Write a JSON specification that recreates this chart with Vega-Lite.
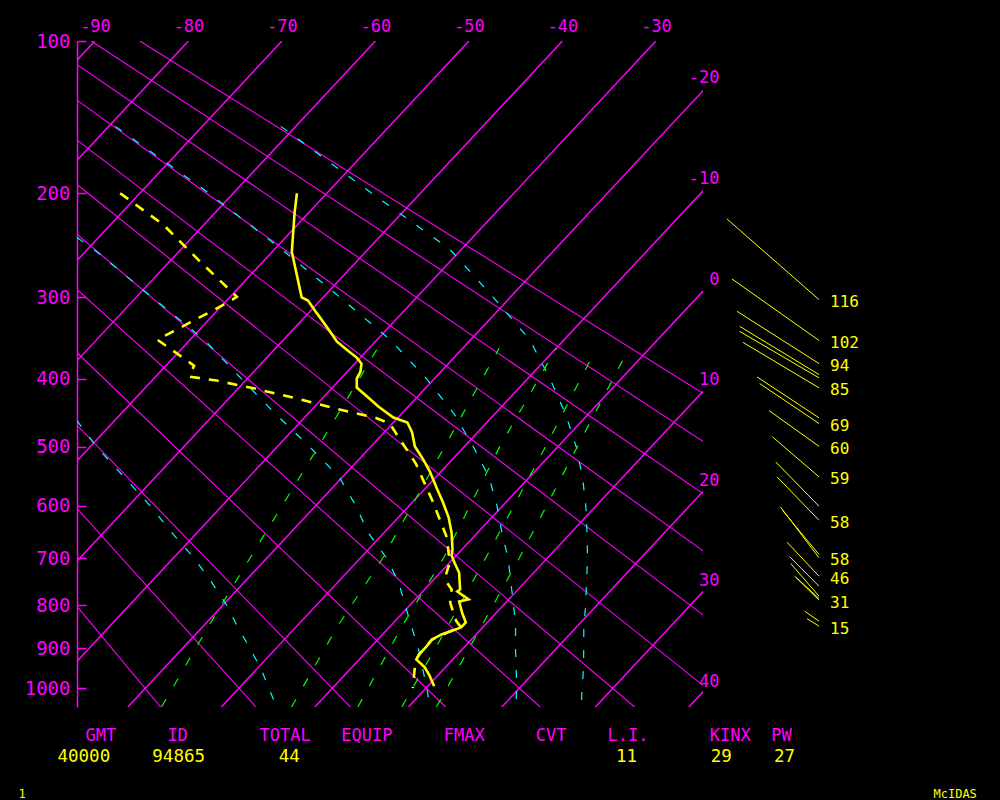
{
  "$schema": "https://vega.github.io/schema/vega-lite/v6.json",
  "width": 626,
  "height": 666,
  "autosize": {"type": "none"},
  "padding": {"left": 77, "top": 41, "right": 297, "bottom": 93},
  "background": "black",
  "config": {
    "view": {"stroke": null},
    "axis": {"labelFont": "DejaVu Sans Mono", "titleFont": "DejaVu Sans Mono", "grid": false, "titleLimit": 1000},
    "text": {"font": "DejaVu Sans Mono"}
  },
  "datasets": {
    "isotherms": [
      {"T": -90, "p": 100}, {"T": -90, "p": 1050},
      {"T": -80, "p": 100}, {"T": -80, "p": 1050},
      {"T": -70, "p": 100}, {"T": -70, "p": 1050},
      {"T": -60, "p": 100}, {"T": -60, "p": 1050},
      {"T": -50, "p": 100}, {"T": -50, "p": 1050},
      {"T": -40, "p": 100}, {"T": -40, "p": 1050},
      {"T": -30, "p": 100}, {"T": -30, "p": 1050},
      {"T": -20, "p": 100}, {"T": -20, "p": 1050},
      {"T": -10, "p": 100}, {"T": -10, "p": 1050},
      {"T": 0, "p": 100}, {"T": 0, "p": 1050},
      {"T": 10, "p": 100}, {"T": 10, "p": 1050},
      {"T": 20, "p": 100}, {"T": 20, "p": 1050},
      {"T": 30, "p": 100}, {"T": 30, "p": 1050},
      {"T": 40, "p": 100}, {"T": 40, "p": 1050}
    ],
    "adiabats": [
      {"th": -20, "p": 100, "T": -142.1}, {"th": -20, "p": 1050, "T": -16.5},
      {"th": -10, "p": 100, "T": -137.0}, {"th": -10, "p": 1050, "T": -6.3},
      {"th": 0, "p": 100, "T": -131.8}, {"th": 0, "p": 1050, "T": 3.8},
      {"th": 10, "p": 100, "T": -126.6}, {"th": 10, "p": 1050, "T": 14.0},
      {"th": 20, "p": 100, "T": -121.4}, {"th": 20, "p": 1050, "T": 24.1},
      {"th": 30, "p": 100, "T": -116.3}, {"th": 30, "p": 1050, "T": 34.2},
      {"th": 40, "p": 100, "T": -111.1}, {"th": 40, "p": 1050, "T": 44.4},
      {"th": 50, "p": 100, "T": -105.9}, {"th": 50, "p": 1050, "T": 54.5},
      {"th": 60, "p": 100, "T": -100.7}, {"th": 60, "p": 1050, "T": 64.7},
      {"th": 70, "p": 100, "T": -95.6}, {"th": 70, "p": 1050, "T": 74.8},
      {"th": 80, "p": 100, "T": -90.4}, {"th": 80, "p": 1050, "T": 84.9},
      {"th": 90, "p": 100, "T": -85.2}, {"th": 90, "p": 1050, "T": 95.1}
    ],
    "moist": [
      {"id": "a", "p": 459, "T": -54.1}, {"id": "a", "p": 500, "T": -49.3}, {"id": "a", "p": 550, "T": -43.3}, {"id": "a", "p": 600, "T": -37.7}, {"id": "a", "p": 650, "T": -32.7}, {"id": "a", "p": 700, "T": -27.8}, {"id": "a", "p": 750, "T": -23.5}, {"id": "a", "p": 800, "T": -19.6}, {"id": "a", "p": 850, "T": -16.2}, {"id": "a", "p": 900, "T": -12.8}, {"id": "a", "p": 950, "T": -9.6}, {"id": "a", "p": 1000, "T": -6.8}, {"id": "a", "p": 1050, "T": -4.1},
      {"id": "b", "p": 239, "T": -72.3}, {"id": "b", "p": 250, "T": -69.4}, {"id": "b", "p": 300, "T": -58.3}, {"id": "b", "p": 350, "T": -48.4}, {"id": "b", "p": 400, "T": -40.6}, {"id": "b", "p": 450, "T": -33.4}, {"id": "b", "p": 500, "T": -26.5}, {"id": "b", "p": 550, "T": -20.3}, {"id": "b", "p": 600, "T": -15.7}, {"id": "b", "p": 650, "T": -11.7}, {"id": "b", "p": 700, "T": -7.2}, {"id": "b", "p": 750, "T": -3.5}, {"id": "b", "p": 800, "T": -0.5}, {"id": "b", "p": 850, "T": 2.4}, {"id": "b", "p": 900, "T": 5.2}, {"id": "b", "p": 950, "T": 7.7}, {"id": "b", "p": 1000, "T": 10.1}, {"id": "b", "p": 1050, "T": 12.3},
      {"id": "c", "p": 150, "T": -79.3}, {"id": "c", "p": 200, "T": -62.6}, {"id": "c", "p": 250, "T": -49.3}, {"id": "c", "p": 300, "T": -38.2}, {"id": "c", "p": 350, "T": -28.5}, {"id": "c", "p": 400, "T": -20.8}, {"id": "c", "p": 450, "T": -14.3}, {"id": "c", "p": 500, "T": -9.0}, {"id": "c", "p": 550, "T": -4.3}, {"id": "c", "p": 600, "T": -0.6}, {"id": "c", "p": 650, "T": 2.6}, {"id": "c", "p": 700, "T": 5.8}, {"id": "c", "p": 750, "T": 8.5}, {"id": "c", "p": 800, "T": 11.1}, {"id": "c", "p": 850, "T": 13.5}, {"id": "c", "p": 900, "T": 15.6}, {"id": "c", "p": 950, "T": 17.7}, {"id": "c", "p": 1000, "T": 19.7}, {"id": "c", "p": 1050, "T": 21.5},
      {"id": "d", "p": 150, "T": -61.6}, {"id": "d", "p": 200, "T": -45.2}, {"id": "d", "p": 250, "T": -31.3}, {"id": "d", "p": 300, "T": -21.8}, {"id": "d", "p": 350, "T": -13.6}, {"id": "d", "p": 400, "T": -7.6}, {"id": "d", "p": 450, "T": -2.4}, {"id": "d", "p": 500, "T": 2.0}, {"id": "d", "p": 550, "T": 5.7}, {"id": "d", "p": 600, "T": 8.9}, {"id": "d", "p": 650, "T": 11.7}, {"id": "d", "p": 700, "T": 14.3}, {"id": "d", "p": 750, "T": 16.6}, {"id": "d", "p": 800, "T": 18.8}, {"id": "d", "p": 850, "T": 20.8}, {"id": "d", "p": 900, "T": 22.9}, {"id": "d", "p": 950, "T": 24.9}, {"id": "d", "p": 1000, "T": 26.7}, {"id": "d", "p": 1050, "T": 28.5}
    ],
    "mixr": [
      {"w": 1, "p": 1050, "T": -16.4}, {"w": 1, "p": 850, "T": -19.4}, {"w": 1, "p": 700, "T": -21.8}, {"w": 1, "p": 500, "T": -25.6}, {"w": 1, "p": 360, "T": -29.1},
      {"w": 3, "p": 1050, "T": -2.5}, {"w": 3, "p": 850, "T": -5.6}, {"w": 3, "p": 700, "T": -7.6}, {"w": 3, "p": 500, "T": -12.1}, {"w": 3, "p": 360, "T": -16.1},
      {"w": 5, "p": 1050, "T": 4.6}, {"w": 5, "p": 850, "T": 1.3}, {"w": 5, "p": 700, "T": -1.1}, {"w": 5, "p": 500, "T": -6.2}, {"w": 5, "p": 360, "T": -10.0},
      {"w": 7, "p": 1050, "T": 9.3}, {"w": 7, "p": 850, "T": 6.2}, {"w": 7, "p": 700, "T": 3.4}, {"w": 7, "p": 500, "T": -1.3}, {"w": 7, "p": 360, "T": -5.7},
      {"w": 9, "p": 1050, "T": 13.0}, {"w": 9, "p": 850, "T": 9.8}, {"w": 9, "p": 700, "T": 7.0}, {"w": 9, "p": 500, "T": 2.1}, {"w": 9, "p": 360, "T": -2.2}
    ],
    "temp": [
      {"p": 200, "T": -53.2}, {"p": 216.6, "T": -51.5}, {"p": 252.7, "T": -47.9}, {"p": 300, "T": -42.3}, {"p": 303.6, "T": -41.3}, {"p": 317.2, "T": -39.2}, {"p": 333.6, "T": -36.7}, {"p": 351.8, "T": -34.1}, {"p": 361.7, "T": -32.3}, {"p": 371.9, "T": -30.4}, {"p": 379.6, "T": -29.3}, {"p": 390.2, "T": -28.6}, {"p": 399.6, "T": -28.3}, {"p": 411.9, "T": -27.4}, {"p": 424.5, "T": -25.4}, {"p": 438.8, "T": -23.2}, {"p": 454.8, "T": -20.5}, {"p": 462.3, "T": -18.5}, {"p": 477.5, "T": -17.0}, {"p": 499.4, "T": -15.3}, {"p": 520.4, "T": -13.1}, {"p": 540.3, "T": -11.2}, {"p": 567.6, "T": -8.9}, {"p": 594.1, "T": -6.7}, {"p": 621.5, "T": -4.6}, {"p": 649.7, "T": -2.8}, {"p": 682.8, "T": -1.0}, {"p": 694.8, "T": -0.5}, {"p": 709.0, "T": 0.5}, {"p": 729.6, "T": 2.0}, {"p": 765.5, "T": 3.8}, {"p": 769.8, "T": 3.7}, {"p": 787.3, "T": 5.7}, {"p": 791.7, "T": 4.9}, {"p": 816.2, "T": 6.3}, {"p": 838.9, "T": 7.7}, {"p": 850.5, "T": 7.7}, {"p": 859.8, "T": 6.9}, {"p": 866.8, "T": 6.3}, {"p": 878.7, "T": 5.8}, {"p": 895.4, "T": 5.9}, {"p": 914.8, "T": 5.9}, {"p": 927.1, "T": 6.1}, {"p": 946.9, "T": 7.8}, {"p": 967.1, "T": 9.1}, {"p": 995.3, "T": 10.7}
    ],
    "dewp": [
      {"p": 200, "T": -72.1}, {"p": 227.4, "T": -64.3}, {"p": 260.6, "T": -57.1}, {"p": 299.3, "T": -49.3}, {"p": 306.0, "T": -49.7}, {"p": 349.4, "T": -53.5}, {"p": 382.3, "T": -47.0}, {"p": 396.9, "T": -46.4}, {"p": 402.3, "T": -43.1}, {"p": 413.3, "T": -38.2}, {"p": 427.3, "T": -32.7}, {"p": 441.7, "T": -27.6}, {"p": 454.8, "T": -22.5}, {"p": 463.8, "T": -20.3}, {"p": 483.6, "T": -18.1}, {"p": 527.0, "T": -13.5}, {"p": 592.3, "T": -7.9}, {"p": 659.4, "T": -2.8}, {"p": 709.0, "T": 0.0}, {"p": 733.8, "T": 0.8}, {"p": 750.6, "T": 1.7}, {"p": 765.5, "T": 2.9}, {"p": 787.3, "T": 3.7}, {"p": 798.4, "T": 4.3}, {"p": 836.6, "T": 6.6}, {"p": 850.5, "T": 7.7}, {"p": 859.8, "T": 6.9}, {"p": 878.7, "T": 5.8}, {"p": 914.8, "T": 5.9}, {"p": 932.0, "T": 6.2}, {"p": 1000, "T": 8.6}
    ],
    "wind": [
      {"id": 1, "p": 302.5, "u": 0}, {"id": 1, "p": 222.1, "u": -92},
      {"id": 2, "p": 350.3, "u": 0}, {"id": 2, "p": 280.2, "u": -87},
      {"id": 3, "p": 379.6, "u": 0}, {"id": 3, "p": 315.7, "u": -82},
      {"id": 4, "p": 394.2, "u": 0}, {"id": 4, "p": 333.3, "u": -79.3},
      {"id": 5, "p": 398.6, "u": 0}, {"id": 5, "p": 339.3, "u": -79.3},
      {"id": 6, "p": 412.3, "u": 0}, {"id": 6, "p": 352.7, "u": -76},
      {"id": 7, "p": 455.3, "u": 0}, {"id": 7, "p": 397.3, "u": -62},
      {"id": 8, "p": 463.8, "u": 0}, {"id": 8, "p": 406.4, "u": -59.3},
      {"id": 9, "p": 499.0, "u": 0}, {"id": 9, "p": 444.6, "u": -50},
      {"id": 10, "p": 549.2, "u": 0}, {"id": 10, "p": 484.1, "u": -46.6},
      {"id": 11, "p": 600.8, "u": 0}, {"id": 11, "p": 524.2, "u": -43.3},
      {"id": 12, "p": 626.5, "u": 0}, {"id": 12, "p": 549.2, "u": -42},
      {"id": 13, "p": 699.5, "u": 0}, {"id": 13, "p": 601.9, "u": -38.6},
      {"id": 14, "p": 692.9, "u": 0}, {"id": 14, "p": 608.7, "u": -36.3},
      {"id": 15, "p": 737.3, "u": 0}, {"id": 15, "p": 668.5, "u": -32},
      {"id": 16, "p": 758.5, "u": 0}, {"id": 16, "p": 697.4, "u": -29.3},
      {"id": 17, "p": 780.1, "u": 0}, {"id": 17, "p": 711.0, "u": -28.3},
      {"id": 18, "p": 788.8, "u": 0}, {"id": 18, "p": 737.3, "u": -24.3},
      {"id": 19, "p": 785.1, "u": 0}, {"id": 19, "p": 740.0, "u": -22.8},
      {"id": 20, "p": 835.9, "u": 0}, {"id": 20, "p": 813.4, "u": -14.3},
      {"id": 21, "p": 847.4, "u": 0}, {"id": 21, "p": 830.4, "u": -12}
    ],
    "windlab": [
      {"p": 302.5, "spd": "116"}, {"p": 350.3, "spd": "102"}, {"p": 379.6, "spd": "94"}, {"p": 412.3, "spd": "85"},
      {"p": 463.8, "spd": "69"}, {"p": 499.0, "spd": "60"}, {"p": 549.2, "spd": "59"}, {"p": 626.5, "spd": "58"},
      {"p": 699.5, "spd": "58"}, {"p": 737.3, "spd": "46"}, {"p": 788.8, "spd": "31"}, {"p": 847.4, "spd": "15"}
    ],
    "rightlab": [
      {"T": -20}, {"T": -10}, {"T": 0}, {"T": 10}, {"T": 20}, {"T": 30}, {"T": 40}
    ]
  },
  "layer": [
    {
      "layer": [
        {
          "layer": [
            {
              "data": {"name": "isotherms"},
              "transform": [{"calculate": "datum.T - 18.57 * (pow(datum.p, 0.286) - 3.7321)", "as": "xs"}],
              "mark": {"type": "line", "color": "#ff00ff", "strokeWidth": 1.5, "clip": true},
              "encoding": {
                "x": {"field": "xs", "type": "quantitative",
                  "scale": {"domain": [-91.925, -24.973], "nice": false, "zero": false},
                  "axis": {"orient": "top", "values": [-90, -80, -70, -60, -50, -40, -30], "labelExpr": "'' + datum.value",
                    "domain": false, "ticks": false, "tickSize": 0, "labelPadding": 6,
                    "labelColor": "#ff00ff", "labelFontSize": 17, "labelFlush": false, "labelOverlap": false,
                    "title": "GMT\u00a0\u00a0\u00a0\u00a0\u00a0ID\u00a0\u00a0\u00a0\u00a0\u00a0\u00a0\u00a0TOTAL\u00a0\u00a0\u00a0EQUIP\u00a0\u00a0\u00a0\u00a0\u00a0FMAX\u00a0\u00a0\u00a0\u00a0\u00a0CVT\u00a0\u00a0\u00a0\u00a0L.I.\u00a0\u00a0\u00a0\u00a0\u00a0\u00a0KINX\u00a0\u00a0PW",
                    "titleX": 8, "titleY": 699.5, "titleAngle": 0, "titleAlign": "left", "titleBaseline": "alphabetic",
                    "titleColor": "#ff00ff", "titleFontSize": 17, "titleFontWeight": "normal"}},
                "y": {"field": "p", "type": "quantitative",
                  "scale": {"type": "pow", "exponent": 0.286, "domain": [100, 1050], "reverse": true, "nice": false, "zero": false},
                  "axis": {"orient": "left", "values": [100, 150, 200, 250, 300, 350, 400, 450, 500, 550, 600, 650, 700, 750, 800, 850, 900, 950, 1000],
                    "labelExpr": "datum.value % 100 === 0 ? '' + datum.value : ''",
                    "title": "McIDAS", "titleAngle": 0, "titleX": 856, "titleY": 756, "titleAlign": "left", "titleBaseline": "alphabetic",
                    "titleColor": "#ffff00", "titleFontSize": 12, "titleFontWeight": "normal",
                    "domainColor": "#ff00ff", "domainWidth": 1.5, "tickColor": "#ff00ff", "tickSize": -9, "tickWidth": 1.5,
                    "labelColor": "#ff00ff", "labelFontSize": 19, "labelPadding": 16, "labelOverlap": false, "labelFlush": false}},
                "detail": {"field": "T"}
              }
            },
            {
              "data": {"name": "adiabats"},
              "transform": [{"calculate": "datum.T - 18.57 * (pow(datum.p, 0.286) - 3.7321)", "as": "xs"}],
              "mark": {"type": "line", "color": "#ff00ff", "strokeWidth": 1.1, "clip": true},
              "encoding": {
                "x": {"field": "xs", "type": "quantitative"},
                "y": {"field": "p", "type": "quantitative"},
                "detail": {"field": "th"},
                "order": {"field": "p", "type": "quantitative"}
              }
            },
            {
              "data": {"name": "moist"},
              "transform": [{"calculate": "datum.T - 18.57 * (pow(datum.p, 0.286) - 3.7321)", "as": "xs"}],
              "mark": {"type": "line", "color": "#00ffff", "strokeWidth": 1.2, "strokeDash": [8, 13], "clip": true},
              "encoding": {
                "x": {"field": "xs", "type": "quantitative"},
                "y": {"field": "p", "type": "quantitative"},
                "detail": {"field": "id"},
                "order": {"field": "p", "type": "quantitative"}
              }
            },
            {
              "data": {"name": "mixr"},
              "transform": [{"calculate": "datum.T - 18.57 * (pow(datum.p, 0.286) - 3.7321)", "as": "xs"}],
              "mark": {"type": "line", "color": "#00ff00", "strokeWidth": 1.2, "strokeDash": [9, 15], "clip": true},
              "encoding": {
                "x": {"field": "xs", "type": "quantitative"},
                "y": {"field": "p", "type": "quantitative"},
                "detail": {"field": "w"},
                "order": {"field": "p", "type": "quantitative", "sort": "descending"}
              }
            },
            {
              "data": {"name": "temp"},
              "transform": [{"calculate": "datum.T - 18.57 * (pow(datum.p, 0.286) - 3.7321)", "as": "xs"}],
              "mark": {"type": "line", "color": "#ffff00", "strokeWidth": 2.6, "clip": true},
              "encoding": {
                "x": {"field": "xs", "type": "quantitative"},
                "y": {"field": "p", "type": "quantitative"},
                "order": {"field": "p", "type": "quantitative"}
              }
            },
            {
              "data": {"name": "dewp"},
              "transform": [{"calculate": "datum.T - 18.57 * (pow(datum.p, 0.286) - 3.7321)", "as": "xs"}],
              "mark": {"type": "line", "color": "#ffff00", "strokeWidth": 2.6, "strokeDash": [10, 9], "clip": true},
              "encoding": {
                "x": {"field": "xs", "type": "quantitative"},
                "y": {"field": "p", "type": "quantitative"},
                "order": {"field": "p", "type": "quantitative"}
              }
            },
            {
              "mark": {"type": "rule", "color": "#ff00ff", "strokeWidth": 1.5},
              "encoding": {"y": {"datum": 1050}}
            }
          ]
        },
        {
          "layer": [
            {
              "data": {"name": "wind"},
              "mark": {"type": "line", "color": "#ffff00", "strokeWidth": 1},
              "encoding": {
                "x": {"field": "u", "type": "quantitative",
                  "scale": {"domain": [-742, -116], "nice": false, "zero": false},
                  "axis": {"orient": "bottom", "labels": false, "ticks": false, "domain": false, "grid": false,
                    "title": "40000\u00a0\u00a0\u00a0\u00a094865\u00a0\u00a0\u00a0\u00a0\u00a0\u00a0\u00a044\u00a0\u00a0\u00a0\u00a0\u00a0\u00a0\u00a0\u00a0\u00a0\u00a0\u00a0\u00a0\u00a0\u00a0\u00a0\u00a0\u00a0\u00a0\u00a0\u00a0\u00a0\u00a0\u00a0\u00a0\u00a0\u00a0\u00a0\u00a0\u00a0\u00a011\u00a0\u00a0\u00a0\u00a0\u00a0\u00a0\u00a029\u00a0\u00a0\u00a0\u00a027",
                    "titleX": -20, "titleY": 54, "titleAngle": 0, "titleAlign": "left", "titleBaseline": "alphabetic",
                    "titleColor": "#ffff00", "titleFontSize": 17.5, "titleFontWeight": "normal"}},
                "y": {"field": "p", "type": "quantitative"},
                "detail": {"field": "id"}
              }
            },
            {
              "mark": {"type": "rule", "color": "#ff00ff", "strokeWidth": 1},
              "encoding": {"x": {"datum": 0}, "y": {"datum": 100}, "y2": {"datum": 1050}}
            },
            {
              "data": {"name": "windlab"},
              "mark": {"type": "text", "align": "left", "baseline": "middle", "dx": 11, "dy": 2.5, "color": "#ffff00", "fontSize": 16},
              "encoding": {
                "x": {"datum": 0},
                "y": {"field": "p", "type": "quantitative"},
                "text": {"field": "spd"}
              }
            }
          ]
        }
      ],
      "resolve": {"scale": {"x": "independent"}, "axis": {"x": "independent"}}
    },
    {
      "data": {"name": "rightlab"},
      "mark": {"type": "point", "opacity": 0},
      "encoding": {
        "y": {"field": "T", "type": "quantitative",
          "scale": {"domain": [-24.97, 41.27], "reverse": true, "nice": false, "zero": false},
          "axis": {"orient": "right", "values": [-20, -10, 0, 10, 20, 30, 40], "labelExpr": "'' + datum.value",
            "domain": false, "ticks": false, "tickSize": 0, "labelPadding": 16, "labelAlign": "right",
            "labelOffset": -13, "labelColor": "#ff00ff", "labelFontSize": 17, "labelFlush": false, "labelOverlap": false,
            "title": "1", "titleX": -685, "titleY": 756, "titleAngle": 0, "titleAlign": "left", "titleBaseline": "alphabetic",
            "titleColor": "#ffff00", "titleFontSize": 12, "titleFontWeight": "normal"}}
      }
    }
  ],
  "resolve": {"scale": {"y": "independent"}, "axis": {"y": "independent"}}
}
